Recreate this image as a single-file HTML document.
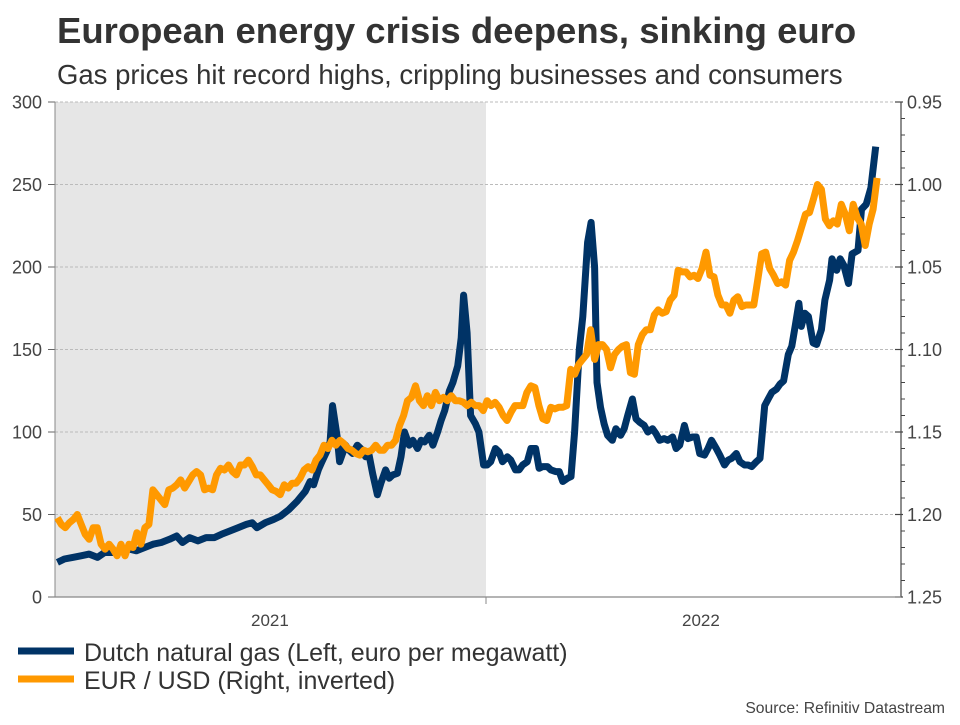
<!DOCTYPE html>
<html><head><meta charset="utf-8"><style>
body{margin:0;background:#fff;font-family:"Liberation Sans",Arial,sans-serif;}
svg text{font-family:"Liberation Sans",Arial,sans-serif;}
</style></head><body>
<svg id="chart" width="960" height="720" xmlns="http://www.w3.org/2000/svg">
<rect width="960" height="720" fill="#fff"/>
<text x="57" y="43" font-size="36.5" font-weight="bold" fill="#333">European energy crisis deepens, sinking euro</text>
<text x="57" y="84" font-size="27.5" fill="#333">Gas prices hit record highs, crippling businesses and consumers</text>
<g id="plot"></g>
<g>
<line x1="18" y1="651" x2="74" y2="651" stroke="#003366" stroke-width="7"/>
<text x="84" y="661" font-size="25" fill="#333">Dutch natural gas (Left, euro per megawatt)</text>
<line x1="18" y1="679" x2="74" y2="679" stroke="#ff9900" stroke-width="7"/>
<text x="84" y="689" font-size="25" fill="#333">EUR / USD (Right, inverted)</text>
</g>
<text x="945" y="713" font-size="15.7" fill="#444" text-anchor="end">Source: Refinitiv Datastream</text>
</svg>
<script>
const gasDays=[2,8,15,22,29,36,42,49,56,63,69,76,83,90,97,103,108,114,121,128,135,141,148,155,162,167,171,178,185,191,198,205,212,216,219,223,226,230,233,235,239,241,246,249,252,256,259,263,266,269,273,276,280,283,286,290,293,296,300,303,307,310,313,317,320,324,327,330,334,337,341,344,346,349,352,356,359,363,366,369,373,376,379,383,386,390,393,396,400,403,407,410,413,417,420,424,427,430,434,437,440,444,447,451,454,457,459,462,465,468,472,475,479,482,485,489,492,495,499,502,506,509,512,516,519,523,526,529,533,536,540,543,546,550,553,556,560,563,567,570,573,577,580,584,587,590,594,597,601,604,607,611,614,617,621,624,627,630,632,635,638,642,645,649,652,656,658,662,665,668,672,675,680,683,687,691,695];
const gasValues=[21,23,24,25,26,24,27,27,28,29,28,30,32,33,35,37,33,36,34,36,36,38,40,42,44,45,42,45,47,49,53,58,64,70,68,77,82,88,94,116,97,82,92,89,87,92,90,85,86,75,62,69,77,72,74,75,85,100,92,95,90,95,94,98,92,100,107,113,125,130,140,157,183,160,110,105,100,80,80,82,90,88,82,85,83,77,77,80,82,90,90,78,79,79,77,76,76,70,72,73,100,150,170,215,227,200,130,115,105,98,95,102,98,102,110,120,108,106,104,100,102,99,95,96,95,97,90,92,104,96,97,97,87,86,90,95,90,86,80,83,84,87,82,80,80,79,82,84,116,120,124,126,129,131,147,152,165,178,164,172,170,154,153,162,180,192,205,198,205,201,190,208,210,235,238,248,273];
const eurStartDay=2, eurStepDays=3.37;
const eurValues=[1.202,1.206,1.208,1.205,1.203,1.200,1.206,1.212,1.215,1.208,1.208,1.218,1.221,1.218,1.221,1.225,1.218,1.225,1.218,1.220,1.211,1.218,1.208,1.206,1.185,1.188,1.191,1.194,1.185,1.184,1.182,1.179,1.184,1.180,1.176,1.174,1.176,1.185,1.184,1.185,1.176,1.172,1.173,1.170,1.174,1.176,1.170,1.170,1.167,1.171,1.176,1.176,1.179,1.182,1.185,1.186,1.188,1.182,1.184,1.181,1.181,1.178,1.173,1.171,1.173,1.167,1.164,1.158,1.160,1.155,1.158,1.155,1.157,1.160,1.161,1.163,1.164,1.161,1.162,1.161,1.158,1.161,1.161,1.158,1.158,1.155,1.146,1.140,1.131,1.129,1.122,1.131,1.134,1.128,1.134,1.126,1.131,1.129,1.131,1.128,1.131,1.131,1.132,1.134,1.132,1.134,1.134,1.137,1.131,1.134,1.132,1.135,1.140,1.143,1.138,1.134,1.134,1.134,1.126,1.122,1.123,1.134,1.142,1.143,1.135,1.136,1.135,1.135,1.134,1.112,1.115,1.109,1.106,1.103,1.088,1.106,1.097,1.097,1.100,1.111,1.103,1.100,1.098,1.097,1.114,1.115,1.097,1.091,1.088,1.088,1.079,1.076,1.078,1.077,1.070,1.067,1.052,1.053,1.053,1.056,1.055,1.057,1.051,1.041,1.055,1.056,1.067,1.073,1.073,1.078,1.070,1.068,1.074,1.073,1.073,1.073,1.058,1.042,1.041,1.051,1.055,1.060,1.059,1.061,1.046,1.041,1.034,1.026,1.018,1.017,1.009,1.000,1.003,1.021,1.025,1.022,1.024,1.012,1.018,1.028,1.012,1.020,1.024,1.037,1.024,1.015,0.996];
const leftTicks=[0,50,100,150,200,250,300];
const rightTicks=["0.95","1.00","1.05","1.10","1.15","1.20","1.25"];
const yearLabels=["2021","2022"];
const yearStartDays=[0,365];

const NS="http://www.w3.org/2000/svg";
const L=55,R=901,T=102,B=597;
const xS=d=>L+d*431/365;
const yL=v=>B-(v/300)*(B-T);
const yR=v=>T+(v-0.95)/0.30*(B-T);
const plot=document.getElementById('plot');
function mk(tag,attrs,parent){const e=document.createElementNS(NS,tag);for(const k in attrs)e.setAttribute(k,attrs[k]);(parent||plot).appendChild(e);return e;}

let bg=mk('rect',{x:xS(yearStartDays[0]),y:T,width:xS(yearStartDays[1])-xS(yearStartDays[0]),height:B-T,fill:'#e6e6e6'});



leftTicks.forEach((v,i)=>{
  const y=yL(v);
  if(v>0){const g=mk('line',{x1:L,x2:895,y1:y,y2:y,stroke:'#bbb','stroke-dasharray':'3,2','stroke-width':1});
  
  }
  mk('line',{x1:L-7,x2:L,y1:y,y2:y,stroke:'#666','stroke-width':1});
  const t=mk('text',{x:42,y:y+6.5,'font-size':18,fill:'#444','text-anchor':'end'});t.textContent=v;
  
  
});
rightTicks.forEach(s=>{
  const y=yR(parseFloat(s));
  mk('line',{x1:R-6,x2:R+2,y1:y,y2:y,stroke:'#444','stroke-width':1.2});
  const t=mk('text',{x:907,y:y+6.5,'font-size':18,fill:'#444'});t.textContent=s;
  
  
});
for(let k=0;k<=30;k++){if(k%5===0)continue;const y=yR(0.95+k*0.01);mk('line',{x1:R,x2:R+4,y1:y,y2:y,stroke:'#444','stroke-width':1});}
let ra=mk('line',{x1:R,x2:R,y1:T,y2:B,stroke:'#444','stroke-width':1.2});


let la=mk('line',{x1:L,x2:L,y1:T,y2:B,stroke:'#888','stroke-width':1});


let xa=mk('line',{x1:L-7,x2:R,y1:B,y2:B,stroke:'#888','stroke-width':1.2});


mk('line',{x1:xS(365),x2:xS(365),y1:B,y2:B+7,stroke:'#888','stroke-width':1});
yearLabels.forEach((s,i)=>{
  const t=mk('text',{x:xS(yearStartDays[i]+182),y:626,'font-size':17,fill:'#444','text-anchor':'middle'});t.textContent=s;
  
  
});

const gasPts=gasValues.map((v,i)=>xS(gasDays[i]).toFixed(1)+','+yL(v).toFixed(1)).join(' ');
let gl=mk('polyline',{points:gasPts,fill:'none',stroke:'#003366','stroke-width':7,'stroke-linejoin':'round','stroke-linecap':'butt'});


const eurPts=eurValues.map((v,i)=>xS(eurStartDay+i*eurStepDays).toFixed(1)+','+yR(v).toFixed(1)).join(' ');
let el=mk('polyline',{points:eurPts,fill:'none',stroke:'#ff9900','stroke-width':7,'stroke-linejoin':'round','stroke-linecap':'butt'});


</script>
</body></html>
